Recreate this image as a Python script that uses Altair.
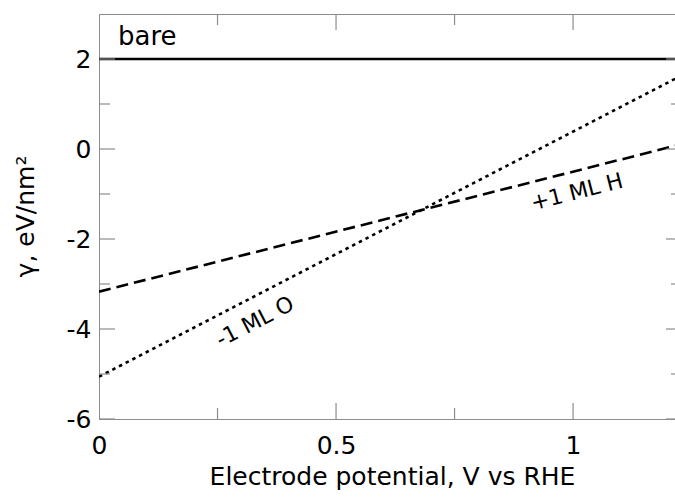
import altair as alt
import pandas as pd

# ---- data ----
potential = [0.0, 1.23]
gamma_bare = [2.0, 2.0]
gamma_H = [-3.17, 0.11]
gamma_O = [-5.06, 1.64]

x_tick_labels = [0, 0.5, 1]
x_major = [0.5, 1.0]
x_minor = [0.25, 0.75]
y_major = [-6, -4, -2, 0, 2]
y_minor = [-5, -3, -1, 1]

label_text = ["+1 ML H", "-1 ML O"]
label_x = [1.008, 0.329]
label_y = [-0.955, -3.84]
label_angle = [345.6, 332.6]
bare_text = ["bare"]
bare_x = [0.04]
bare_y = [2.32]

W, H = 576, 405
FONT = "DejaVu Sans"
GRAY = "#8c8c8c"

xscale = alt.Scale(domain=[0, 1.215], nice=False, zero=False)
yscale = alt.Scale(domain=[-6, 3], nice=False, zero=False)

def line_df(ys):
    return pd.DataFrame({"x": potential, "y": ys})

base_x = alt.X(
    "x:Q", scale=xscale,
    axis=alt.Axis(values=x_tick_labels, labelExpr="'' + datum.value", title="Electrode potential, V vs RHE",
                  ticks=False, tickSize=0, grid=False, domain=True, domainColor=GRAY,
                  labelPadding=34, labelBaseline="alphabetic", labelFlush=False,
                  labelOverlap=False, labelFontSize=25, titleFontSize=25,
                  labelFont=FONT, titleFont=FONT,
                  titleFontWeight="normal", titleX=293, titleY=65,
                  titleBaseline="alphabetic", titleAlign="center"))
base_y = alt.Y(
    "y:Q", scale=yscale,
    axis=alt.Axis(values=y_major, labelExpr="'' + datum.value", title="γ, eV/nm²", ticks=False, tickSize=0, grid=False,
                  domain=True, domainColor=GRAY, labelPadding=8, labelOverlap=False,
                  labelFont=FONT, titleFont=FONT,
                  labelFontSize=25, titleFontSize=25, titleFontWeight="normal",
                  titleAngle=270, titleX=-66, titleY=202, titleBaseline="alphabetic",
                  titleAlign="center"))

bare = alt.Chart(line_df(gamma_bare)).mark_line(color="black", strokeWidth=2.6, clip=True).encode(
    x=base_x, y=base_y)
hline = alt.Chart(line_df(gamma_H)).mark_line(color="black", strokeWidth=2.6, strokeDash=[12, 6], clip=True).encode(
    x="x:Q", y="y:Q")
oline = alt.Chart(line_df(gamma_O)).mark_line(color="black", strokeWidth=2.6, strokeDash=[3.5, 4], clip=True).encode(
    x="x:Q", y="y:Q")

def vticks(vals, y0, y1):
    return alt.Chart(pd.DataFrame({"x": vals})).mark_rule(color=GRAY, strokeWidth=1.2).encode(
        x="x:Q", y=alt.value(y0), y2=alt.value(y1))

def hticks(vals, x0, x1):
    return alt.Chart(pd.DataFrame({"y": vals})).mark_rule(color=GRAY, strokeWidth=1.2).encode(
        y="y:Q", x=alt.value(x0), x2=alt.value(x1))

ticks = [
    vticks(x_major, H, H - 16), vticks(x_minor, H, H - 11),
    vticks(x_major, 0, 16), vticks(x_minor, 0, 11),
    hticks(y_major, 0, 16), hticks(y_minor, 0, 11),
    hticks(y_major, W - 9, W), hticks(y_minor, W - 4, W),
]

top_frame = alt.Chart(pd.DataFrame({"x": [0]})).mark_rule(color=GRAY, strokeWidth=1).encode(
    x=alt.value(0), x2=alt.value(W), y=alt.value(0.5))

labels = alt.Chart(pd.DataFrame({"x": label_x, "y": label_y, "t": label_text, "a": label_angle})).mark_text(
    font=FONT, fontSize=22, align="center", baseline="middle", color="black").encode(
    x="x:Q", y="y:Q", text="t:N", angle=alt.Angle("a:Q", scale=None))

bare_label = alt.Chart(pd.DataFrame({"x": bare_x, "y": bare_y, "t": bare_text})).mark_text(
    font=FONT, fontSize=26, align="left", baseline="alphabetic", color="black").encode(
    x="x:Q", y="y:Q", text="t:N")

chart = alt.layer(bare, hline, oline, *ticks, top_frame, labels, bare_label).properties(
    width=W, height=H,
    autosize=alt.AutoSizeParams(type="none"),
    padding={"left": 99, "top": 14, "right": 0, "bottom": 78},
).configure_view(stroke=None).configure_axis(
    labelFont=FONT, titleFont=FONT, labelColor="black", titleColor="black"
).configure(background="white")

chart.save("out.html", embed_options={"renderer": "svg", "actions": False})
